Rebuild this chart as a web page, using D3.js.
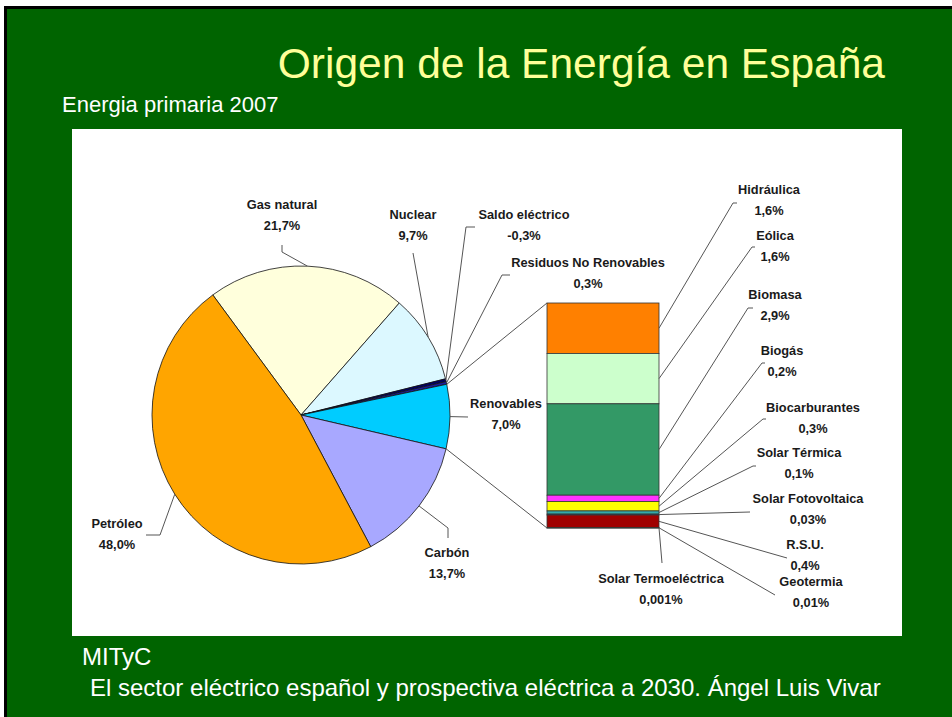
<!DOCTYPE html>
<html>
<head>
<meta charset="utf-8">
<script src="https://cdn.jsdelivr.net/npm/d3@7"></script>
<style>
  body { margin: 0; background: #fff; }
  svg { display: block; }
</style>
</head>
<body>
<script>
// Pie: primary energy 2007 (Excel draws |value| for the negative one)
var pieNames  = ["Gas natural", "Nuclear", "Saldo eléctrico", "Residuos No Renovables", "Renovables", "Carbón", "Petróleo"];
var pieValues = [21.7, 9.7, -0.3, 0.3, 7.0, 13.7, 48.0];
var pieColors = ["#FFFFDC", "#DCF8FF", "#000066", "#1C1C99", "#00CCFF", "#A8A8FF", "#FFA500"];

// Stacked column: breakdown of Renovables, top to bottom
var renNames  = ["Hidráulica", "Eólica", "Biomasa", "Biogás", "Biocarburantes", "Solar Térmica",
                 "Solar Fotovoltaica", "R.S.U.", "Geotermia", "Solar Termoeléctrica"];
var renValues = [1.6, 1.6, 2.9, 0.2, 0.3, 0.1, 0.03, 0.4, 0.01, 0.001];
var renColors = ["#FF8000", "#CCFFCC", "#339966", "#FF33FF", "#FFFF00", "#33AAAA",
                 "#0066CC", "#A00000", "#666666", "#FFCC00"];

// label layout (centre x, first baseline, leader points from label side)
var pieLabelPos = [
    {x: 282, y: 209, pts: [[282, 245], [282, 252]]},
    {x: 413, y: 219, pts: [[413, 253]]},
    {x: 524, y: 219, pts: [[475, 227], [466, 227]]},
    {x: 588, y: 267, pts: [[510, 275], [502, 275]]},
    {x: 506, y: 408, pts: [[468, 417]]},
    {x: 447, y: 557, pts: [[448, 538], [448, 528]]},
    {x: 117, y: 528, pts: [[146, 535], [160, 535]]}
];
var renLabelPos = [
    {x: 769, y: 194, pts: [[737, 203], [733, 203]]},
    {x: 775, y: 240, pts: [[755, 247], [752, 247]]},
    {x: 775, y: 299, pts: [[753, 308], [748, 308]]},
    {x: 782, y: 355, pts: [[765, 363], [762, 363]]},
    {x: 813, y: 412, pts: [[766, 419], [763, 419]]},
    {x: 799, y: 457, pts: [[756, 466], [753, 466]]},
    {x: 808, y: 503, pts: [[750, 512]]},
    {x: 805, y: 549, pts: [[787, 558]]},
    {x: 811, y: 586, pts: [[775, 595]]},
    {x: 661, y: 583, pts: [[662, 563]]}
];

var W = 952, H = 717;

function pct(v) {
    var s = String(v);
    if (s.indexOf(".") < 0) s += ".0";
    return s.replace(".", ",") + "%";
}

var svg = d3.select("body").append("svg")
    .attr("width", W)
    .attr("height", H);

// slide frame
svg.append("rect").attr("x", 4).attr("y", 6).attr("width", W - 4).attr("height", H - 6).attr("fill", "#000");
svg.append("rect").attr("x", 7).attr("y", 9).attr("width", W - 7).attr("height", H - 9).attr("fill", "#006400");

svg.append("text")
    .attr("x", 885).attr("y", 78)
    .attr("text-anchor", "end")
    .style("font-family", "'Liberation Sans', Arial, sans-serif")
    .style("font-size", "42.5px")
    .attr("fill", "#FFFF99")
    .text("Origen de la Energía en España");

svg.append("text")
    .attr("x", 62).attr("y", 112)
    .style("font-family", "'Liberation Sans', Arial, sans-serif")
    .style("font-size", "22px")
    .attr("fill", "#fff")
    .text("Energia primaria 2007");

// white chart panel
svg.append("rect").attr("x", 72).attr("y", 129).attr("width", 830).attr("height", 507).attr("fill", "#fff");

var foot = svg.append("g")
    .style("font-family", "'Liberation Sans', Arial, sans-serif")
    .style("font-size", "24px")
    .attr("fill", "#fff");
foot.append("text").attr("x", 82).attr("y", 665).text("MITyC");
foot.append("text").attr("x", 90).attr("y", 696).text("El sector eléctrico español y prospectiva eléctrica a 2030. Ángel Luis Vivar");

// ---- pie ----
var cx = 301, cy = 415, r = 149;
var start = -36.3 * Math.PI / 180;
var pie = d3.pie()
    .sort(null)
    .value(function(d) { return Math.abs(d); })
    .startAngle(start)
    .endAngle(start + 2 * Math.PI);
var arcs = pie(pieValues);
var arc = d3.arc().innerRadius(0).outerRadius(r);

function onRim(a) {
    return [cx + r * Math.sin(a), cy - r * Math.cos(a)];
}

var gPie = svg.append("g").attr("transform", "translate(" + cx + "," + cy + ")");
gPie.selectAll("path")
    .data(arcs)
    .enter()
    .append("path")
    .attr("d", arc)
    .attr("fill", function(d, i) { return pieColors[i]; })
    .attr("stroke", "#111")
    .attr("stroke-width", 0.8);

// ---- stacked column of renewables ----
var renTotal = d3.sum(renValues);
var y = d3.scaleLinear().domain([0, renTotal]).range([528, 303]);
var bx0 = 547, bx1 = 659;
var stackTop = [], acc = renTotal;
renValues.forEach(function(v) { stackTop.push(acc); acc -= v; });

svg.append("g").selectAll("rect")
    .data(renValues)
    .enter()
    .append("rect")
    .attr("x", bx0)
    .attr("width", bx1 - bx0)
    .attr("y", function(d, i) { return y(stackTop[i]); })
    .attr("height", function(d) { return y(0) - y(d); })
    .attr("fill", function(d, i) { return renColors[i]; })
    .attr("stroke", "#333")
    .attr("stroke-width", 0.8);

// connectors pie -> column
var ren = arcs[4];
var line = d3.line();
var lines = svg.append("g").attr("fill", "none").attr("stroke", "#555").attr("stroke-width", 1);
lines.append("path").attr("d", line([onRim(ren.startAngle), [bx0, y(renTotal)]]));
lines.append("path").attr("d", line([onRim(ren.endAngle), [bx0, y(0)]]));

// leader lines
arcs.forEach(function(a, i) {
    var mid = (a.startAngle + a.endAngle) / 2;
    lines.append("path").attr("d", line(pieLabelPos[i].pts.concat([onRim(mid)])));
});
renValues.forEach(function(v, i) {
    var ym = (y(stackTop[i]) + y(stackTop[i] - v)) / 2;
    lines.append("path").attr("d", line(renLabelPos[i].pts.concat([[bx1, ym]])));
});

// labels
var labs = svg.append("g")
    .style("font-family", "'Liberation Sans', Arial, sans-serif")
    .style("font-size", "12.8px")
    .style("font-weight", "bold")
    .attr("fill", "#1a1a1a")
    .attr("text-anchor", "middle");

function addLabel(pos, name, v) {
    var t = labs.append("text").attr("x", pos.x).attr("y", pos.y);
    t.append("tspan").attr("x", pos.x).text(name);
    t.append("tspan").attr("x", pos.x).attr("dy", 21).text(pct(v));
}
pieNames.forEach(function(n, i) { addLabel(pieLabelPos[i], n, pieValues[i]); });
renNames.forEach(function(n, i) { addLabel(renLabelPos[i], n, renValues[i]); });
</script>
</body>
</html>
